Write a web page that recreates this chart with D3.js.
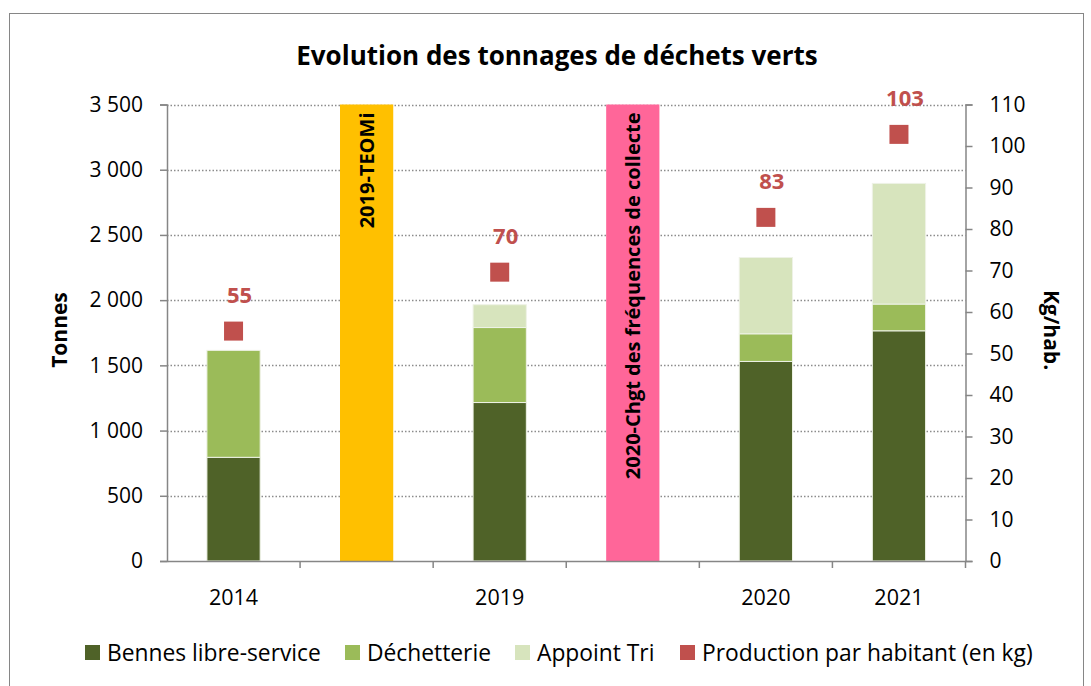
<!DOCTYPE html>
<html>
<head>
<meta charset="utf-8">
<script src="https://cdn.jsdelivr.net/npm/d3@7"></script>
<style>
  body { margin: 0; background: #fff; }
  svg text { font-family: "Open Sans", Lato, sans-serif; fill: #000; }
</style>
</head>
<body>
<div id="chartContainer"></div>
<script>
// categories of the x axis (events are shown as full-height bars)
var categories = ["2014", "TEOMi", "2019", "Chgt", "2020", "2021"];
var tickLabels = ["2014", "", "2019", "", "2020", "2021"];

// tonnages per year
var years = ["2014", "2019", "2020", "2021"];
var bennes = [795, 1215, 1530, 1765];
var decheterie = [820, 575, 212, 205];
var appoint = [0, 175, 585, 925];

// kg per inhabitant
var production = [55.4, 69.6, 82.8, 102.8];

// event bars
var events = ["TEOMi", "Chgt"];
var eventLabels = ["2019-TEOMi", "2020-Chgt des fréquences de collecte"];
var eventValues = [3500, 3500];

var seriesNames = ["Bennes libre-service", "Déchetterie", "Appoint Tri", "Production par habitant (en kg)"];
var leftTicks = [0, 500, 1000, 1500, 2000, 2500, 3000, 3500];
var rightTicks = [0, 10, 20, 30, 40, 50, 60, 70, 80, 90, 100, 110];

function init() {
    var w = 1091;
    var h = 686;
    var left = 167, right = 965.5, top = 104.5, bottom = 561;

    var colors = ["#4F6228", "#9BBB59", "#D7E4BD", "#C0504D"];

    var fr = d3.formatLocale({ decimal: ",", thousands: "\u00a0", grouping: [3], currency: ["", "€"] });
    var fmt = fr.format(",.0f");

    var svg = d3.select("#chartContainer")
        .append("svg")
        .attr("width", w)
        .attr("height", h);

    // chart border
    svg.append("rect")
        .attr("x", 9.5).attr("y", 13.5)
        .attr("width", 1074).attr("height", 690)
        .attr("fill", "none")
        .attr("stroke", "#868686")
        .attr("stroke-width", 1);

    var xScale = d3.scaleBand()
        .domain(categories)
        .range([left, right])
        .paddingInner(0.6)
        .paddingOuter(0.3);

    var yScale = d3.scaleLinear()
        .domain([0, 3500])
        .range([bottom, top]);

    var yRight = d3.scaleLinear()
        .domain([0, 110])
        .range([bottom, top]);

    // gridlines
    svg.append("g")
        .selectAll("line")
        .data(leftTicks.slice(1))
        .enter()
        .append("line")
        .attr("x1", left)
        .attr("x2", right)
        .attr("y1", function (d) { return Math.round(yScale(d)) + 0.5; })
        .attr("y2", function (d) { return Math.round(yScale(d)) + 0.5; })
        .attr("stroke", "#8c8c8c")
        .attr("stroke-width", 1.3)
        .attr("stroke-dasharray", "1.5,2");

    // title
    svg.append("text")
        .attr("x", 557)
        .attr("y", 65)
        .attr("text-anchor", "middle")
        .attr("font-size", "26px")
        .attr("font-weight", "bold")
        .text("Evolution des tonnages de déchets verts");

    // stacked data
    var rows = years.map(function (y, i) {
        return { year: y, bennes: bennes[i], decheterie: decheterie[i], appoint: appoint[i] };
    });
    var stack = d3.stack().keys(["bennes", "decheterie", "appoint"]);
    var layers = stack(rows);

    svg.append("g")
        .selectAll("g")
        .data(layers)
        .enter()
        .append("g")
        .attr("fill", function (d, i) { return colors[i]; })
        .selectAll("rect")
        .data(function (d) { return d; })
        .enter()
        .append("rect")
        .attr("x", function (d) { return xScale(d.data.year); })
        .attr("width", xScale.bandwidth())
        .attr("y", function (d) { return yScale(d[1]); })
        .attr("height", function (d) { return yScale(d[0]) - yScale(d[1]); })
        .attr("stroke", "#eef2e6")
        .attr("stroke-width", 1);

    // event bars
    var evColors = ["#FFC000", "#FF6699"];
    svg.append("g")
        .selectAll("rect")
        .data(events)
        .enter()
        .append("rect")
        .attr("x", function (d) { return xScale(d); })
        .attr("width", xScale.bandwidth())
        .attr("y", function (d, i) { return yScale(eventValues[i]); })
        .attr("height", function (d, i) { return yScale(0) - yScale(eventValues[i]); })
        .attr("fill", function (d, i) { return evColors[i]; });

    svg.append("g")
        .selectAll("text")
        .data(events)
        .enter()
        .append("text")
        .attr("transform", function (d, i) {
            var x = xScale(d) + xScale.bandwidth() / 2 + 7;
            var y = yScale(eventValues[i]) + 8;
            return "translate(" + x + "," + y + ") rotate(-90)";
        })
        .attr("text-anchor", "end")
        .attr("font-size", "20px")
        .attr("font-weight", "bold")
        .text(function (d, i) { return eventLabels[i]; });

    // x axis
    var xAxis = d3.axisBottom(xScale).tickSize(0).tickFormat(function (d, i) { return tickLabels[i]; });
    var gx = svg.append("g")
        .attr("transform", "translate(0," + bottom + ")")
        .call(xAxis);
    gx.select(".domain").attr("stroke", "#868686").attr("stroke-width", 1.5);
    gx.selectAll("text").attr("font-size", "21.5px").attr("dy", "1.9em");

    // tick marks between categories
    var step = xScale.step();
    svg.append("g")
        .selectAll("line")
        .data(categories)
        .enter()
        .append("line")
        .attr("x1", function (d, i) { return left + step * (i + 1); })
        .attr("x2", function (d, i) { return left + step * (i + 1); })
        .attr("y1", bottom)
        .attr("y2", bottom + 7)
        .attr("stroke", "#868686")
        .attr("stroke-width", 1.5);

    // left axis
    var yAxis = d3.axisLeft(yScale).tickValues(leftTicks).tickSize(7).tickPadding(17).tickFormat(fmt);
    var gy = svg.append("g")
        .attr("transform", "translate(" + left + ",0)")
        .call(yAxis);
    gy.select(".domain").attr("stroke", "#868686").attr("stroke-width", 1.5);
    gy.selectAll(".tick line").attr("stroke", "#868686").attr("stroke-width", 1.5);
    gy.selectAll("text").attr("font-size", "21px");

    // right axis
    var yAxisR = d3.axisRight(yRight).tickValues(rightTicks).tickSize(7).tickPadding(17);
    var gr = svg.append("g")
        .attr("transform", "translate(" + right + ",0)")
        .call(yAxisR);
    gr.select(".domain").attr("stroke", "#868686").attr("stroke-width", 1.5);
    gr.selectAll(".tick line").attr("stroke", "#868686").attr("stroke-width", 1.5);
    gr.selectAll("text").attr("font-size", "21px");

    // axis titles
    svg.append("text")
        .attr("transform", "translate(67,330) rotate(-90)")
        .attr("text-anchor", "middle")
        .attr("font-size", "21px")
        .attr("font-weight", "bold")
        .text("Tonnes");

    svg.append("text")
        .attr("transform", "translate(1044,330) rotate(90)")
        .attr("text-anchor", "middle")
        .attr("font-size", "21px")
        .attr("font-weight", "bold")
        .text("Kg/hab.");

    // production markers
    var ms = 19;
    svg.append("g")
        .selectAll("rect")
        .data(years)
        .enter()
        .append("rect")
        .attr("x", function (d) { return xScale(d) + xScale.bandwidth() / 2 - ms / 2; })
        .attr("y", function (d, i) { return yRight(production[i]) - ms / 2; })
        .attr("width", ms)
        .attr("height", ms)
        .attr("fill", colors[3]);

    svg.append("g")
        .selectAll("text")
        .data(years)
        .enter()
        .append("text")
        .attr("x", function (d) { return xScale(d) + xScale.bandwidth() / 2 + 6; })
        .attr("y", function (d, i) { return yRight(production[i]) - 28; })
        .attr("text-anchor", "middle")
        .attr("font-size", "22px")
        .attr("font-weight", "bold")
        .style("fill", colors[3])
        .text(function (d, i) { return d3.format(".0f")(production[i]); });

    // legend
    var legendX = [85, 345, 515, 680];
    var lg = svg.append("g")
        .selectAll("g")
        .data(seriesNames)
        .enter()
        .append("g")
        .attr("transform", function (d, i) { return "translate(" + legendX[i] + ",645)"; });
    lg.append("rect")
        .attr("width", 15)
        .attr("height", 15)
        .attr("fill", function (d, i) { return colors[i]; });
    lg.append("text")
        .attr("x", 22)
        .attr("y", 15.5)
        .attr("font-size", "22.8px")
        .text(function (d) { return d; });
}

window.onload = init;
</script>
</body>
</html>
